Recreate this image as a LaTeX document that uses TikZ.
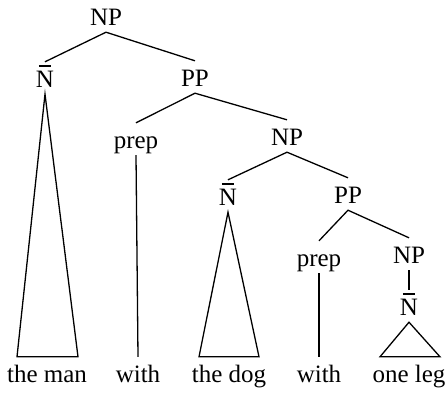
\documentclass[tikz,border=0pt]{standalone}
\usepackage{fontspec}
\setmainfont{Liberation Serif}
\newcommand\Nbar{\ooalign{N\cr\hidewidth\raisebox{0.82em}{\rule{0.5em}{0.05em}}\hidewidth\cr}}
\begin{document}
\begin{tikzpicture}[x=1pt,y=-1pt,
  lab/.style={anchor=base,inner sep=0pt,text height=25pt,text depth=7pt,font=\fontsize{25}{29}\selectfont},
  edge/.style={line width=1.3pt,line join=miter}]
\useasboundingbox (0,0) rectangle (447,392);
% nodes
\node[lab] (np1) at (106,25) {NP};
\node[lab] (nb1) at (45,87) {\Nbar};
\node[lab] (pp1) at (195,86) {PP};
\node[lab] (prep1) at (136,148) {prep};
\node[lab] (np2) at (287,145) {NP};
\node[lab] (nb2) at (228,205) {\Nbar};
\node[lab] (pp2) at (348,203) {PP};
\node[lab] (prep2) at (319,266) {prep};
\node[lab] (np3) at (409,263) {NP};
\node[lab] (nb3) at (409,315) {\Nbar};
\node[lab] (w1) at (47,382) {the man};
\node[lab] (w2) at (138,382) {with};
\node[lab] (w3) at (229,382) {the dog};
\node[lab] (w4) at (319,382) {with};
\node[lab] (w5) at (409,382) {one leg};
% edges
\draw[edge] (nb1.north) -- (np1.south) -- (pp1.north);
\draw[edge] (prep1.north) -- (pp1.south) -- (np2.north);
\draw[edge] (nb2.north) -- (np2.south) -- (pp2.north);
\draw[edge] (prep2.north) -- (pp2.south) -- (np3.north);
\draw[edge] (np3.south) -- (nb3.north);
\draw[edge] (prep1.south) -- (w2.north);
\draw[edge] (prep2.south) -- (w4.north);
% triangles
\draw[edge] (nb1.south) -- ([xshift=-30pt]w1.north) -- ([xshift=31pt]w1.north) -- cycle;
\draw[edge] (nb2.south) -- ([xshift=-30pt]w3.north) -- ([xshift=30pt]w3.north) -- cycle;
\draw[edge] (nb3.south) -- ([xshift=-29pt]w5.north) -- ([xshift=31pt]w5.north) -- cycle;
\end{tikzpicture}
\end{document}
